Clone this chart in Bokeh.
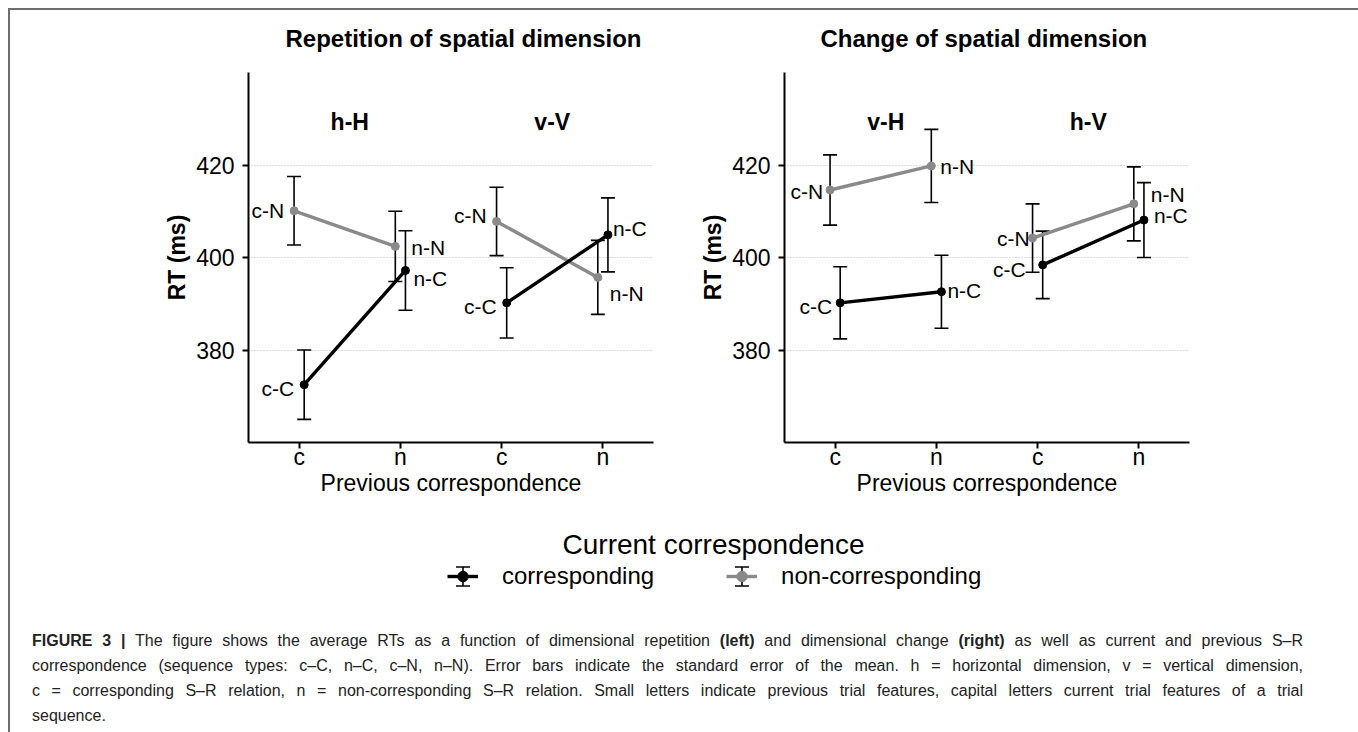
import math
from bokeh.plotting import figure
from bokeh.models import (ColumnDataSource, Whisker, FixedTicker, Range1d, Legend,
                          LegendItem, Div, TeeHead, Label)
from bokeh.layouts import column, row
from bokeh.embed import file_html
from bokeh.resources import INLINE
from bokeh.core.properties import value

FONT = "Liberation Sans"

# ---------------- data ----------------
panel_titles = ["Repetition of spatial dimension", "Change of spatial dimension"]
panel_facets = [["h-H", "v-V"], ["v-H", "h-V"]]
prev_labels = ["c", "n"]                       # previous correspondence
legend_title = "Current correspondence"
series_names = ["corresponding", "non-corresponding"]
series_colors = ["#000000", "#8a8a8a"]
y_ticks = [380, 400, 420]

# mean RT (ms) for [previous c, previous n]
rt_corresponding = {
    "h-H": [372.5, 397.2],
    "v-V": [390.2, 404.9],
    "v-H": [390.2, 392.6],
    "h-V": [398.4, 408.1],
}
rt_noncorresponding = {
    "h-H": [410.1, 402.4],
    "v-V": [407.8, 395.7],
    "v-H": [414.6, 419.8],
    "h-V": [404.2, 411.6],
}
# standard errors
se_corresponding = {
    "h-H": [7.5, 8.6],
    "v-V": [7.6, 8.0],
    "v-H": [7.8, 7.9],
    "h-V": [7.3, 8.1],
}
se_noncorresponding = {
    "h-H": [7.4, 7.6],
    "v-V": [7.4, 8.0],
    "v-H": [7.6, 7.9],
    "h-V": [7.4, 8.0],
}
# point labels
labels_corresponding = ["c-C", "n-C"]
labels_noncorresponding = ["c-N", "n-N"]

# label nudges in pixels (style only): (dx, dy) per facet, per previous level
nudge_corresponding = {
    "h-H": [(-10, 4), (8, 8)],
    "v-V": [(-10, 4), (5, -6)],
    "v-H": [(-8, 4), (6, -1)],
    "h-V": [(-17, 5), (10, -5)],
}
nudge_noncorresponding = {
    "h-H": [(-10, 0), (16, 1)],
    "v-V": [(-10, -6), (12, 16)],
    "v-H": [(-7, 2), (9, 1)],
    "h-V": [(-3, 0), (17, -9)],
}
DODGE = 0.05
FACET_LABEL_Y = 429.2
TOTAL_W = 1345
STRIP_H = 50
PANEL_H = 460
FRAME_H = 370
FRAME_TOP = 12


def build_panel(facets, width, border_left, border_right):
    p = figure(width=width, height=PANEL_H, output_backend="svg", toolbar_location=None,
               x_range=Range1d(0.5, 4.5), y_range=Range1d(360, 440),
               min_border_left=border_left, min_border_right=border_right,
               min_border_top=FRAME_TOP, min_border_bottom=PANEL_H - FRAME_TOP - FRAME_H)
    p.outline_line_color = None

    series = [
        (rt_corresponding, se_corresponding, labels_corresponding, nudge_corresponding, +DODGE, series_colors[0]),
        (rt_noncorresponding, se_noncorresponding, labels_noncorresponding, nudge_noncorresponding, -DODGE, series_colors[1]),
    ]
    # draw grey first, black on top
    for rt, se, labs, nudge, dodge, color in reversed(series):
        for fi, fac in enumerate(facets):
            xs = [fi * 2 + k + 1 + dodge for k in range(len(prev_labels))]
            ys = rt[fac]
            src = ColumnDataSource(dict(
                x=xs, y=ys,
                upper=[v + e for v, e in zip(ys, se[fac])],
                lower=[v - e for v, e in zip(ys, se[fac])],
                lab=labs,
                dx=[n[0] for n in nudge[fac]],
                dy=[n[1] for n in nudge[fac]],
                align=["right", "left"],
            ))
            p.line("x", "y", source=src, line_color=color, line_width=3.4)
            w = Whisker(source=src, base="x", upper="upper", lower="lower",
                        line_color="black", line_width=1.6,
                        upper_head=TeeHead(size=14, line_color="black", line_width=1.6),
                        lower_head=TeeHead(size=14, line_color="black", line_width=1.6))
            p.add_layout(w)
            p.scatter("x", "y", source=src, size=8, fill_color=color, line_color=color)
            p.text("x", "y", text="lab", source=src, x_offset="dx", y_offset="dy",
                   text_align="align", text_baseline="middle",
                   text_font=value(FONT), text_font_size="21px", text_color="black")

    # facet strip labels
    fsrc = ColumnDataSource(dict(x=[1.5, 3.5], y=[FACET_LABEL_Y] * 2, t=facets))
    p.text("x", "y", text="t", source=fsrc, text_align="center", text_baseline="middle",
           text_font=value(FONT), text_font_size="23px", text_font_style="bold",
           text_color="black")

    # axes
    p.xaxis.ticker = FixedTicker(ticks=[1, 2, 3, 4])
    p.xaxis.major_label_overrides = {1: prev_labels[0], 2: prev_labels[1],
                                     3: prev_labels[0], 4: prev_labels[1]}
    p.yaxis.ticker = FixedTicker(ticks=y_ticks)
    p.xaxis.axis_label = "Previous correspondence"
    p.yaxis.axis_label = "RT (ms)"
    for ax in (p.xaxis, p.yaxis):
        ax.axis_line_width = 2
        ax.axis_line_color = "black"
        ax.major_tick_line_width = 2
        ax.major_tick_line_color = "black"
        ax.major_tick_out = 6
        ax.major_tick_in = 0
        ax.minor_tick_line_color = None
        ax.major_label_text_font = FONT
        ax.major_label_text_font_size = "23px"
        ax.major_label_text_color = "black"
        ax.axis_label_text_font = FONT
        ax.axis_label_text_font_size = "23px"
        ax.axis_label_text_color = "black"
    p.xaxis.axis_label_text_font_style = "normal"
    p.yaxis.axis_label_text_font_style = "bold"
    p.xaxis.major_label_standoff = -5
    p.xaxis.axis_label_standoff = -3
    p.yaxis.major_label_standoff = 8
    p.yaxis.axis_label_standoff = 3
    p.xgrid.grid_line_color = None
    p.ygrid.grid_line_color = "#b8b8b8"
    p.ygrid.grid_line_dash = "1 2"
    p.ygrid.grid_line_width = 1
    return p


# ---------------- panel titles strip ----------------
strip = figure(width=TOTAL_W, height=STRIP_H, output_backend="svg", toolbar_location=None,
               x_range=Range1d(0, 1), y_range=Range1d(0, 1),
               min_border_top=0, min_border_bottom=0, min_border_left=0, min_border_right=0)
strip.axis.visible = False
strip.grid.visible = False
strip.outline_line_color = None
for tx, title in zip([275, 810], panel_titles):
    strip.add_layout(Label(x=tx, y=STRIP_H - 28, x_units="screen", y_units="screen",
                           text=title, text_align="left", text_baseline="middle",
                           text_font=FONT, text_font_size="24px", text_font_style="bold",
                           text_color="black"))

left = build_panel(panel_facets[0], 666, 238, 23)
right = build_panel(panel_facets[1], TOTAL_W - 666, 108, TOTAL_W - 666 - 108 - 405)

# ---------------- legend ----------------
LEG_H = 100
LEG_X, LEG_Y = 437, 30
GLYPH_W, GLYPH_H, STANDOFF, SPACING = 31, 26, 24, 72
LABEL1_W = 152          # rendered width of the first legend label
lg = figure(width=TOTAL_W, height=LEG_H, output_backend="svg", toolbar_location=None,
            x_range=Range1d(0, 1), y_range=Range1d(0, 1),
            min_border_top=0, min_border_bottom=0, min_border_left=0, min_border_right=0)
lg.axis.visible = False
lg.grid.visible = False
lg.outline_line_color = None
lg.add_layout(Label(x=703, y=76, x_units="screen", y_units="screen", text=legend_title,
                    text_align="center", text_baseline="middle", text_font=FONT,
                    text_font_size="28px", text_color="black"))

# error-bar symbol of the legend keys (drawn under the legend's line and point)
key_cx = [LEG_X + GLYPH_W / 2,
          LEG_X + GLYPH_W + STANDOFF + LABEL1_W + SPACING + GLYPH_W / 2]
key_cy = LEG_Y + GLYPH_H / 2 + 1
ksrc = ColumnDataSource(dict(base=key_cx, lower=[key_cy - 9.5] * 2, upper=[key_cy + 9.5] * 2))
lg.add_layout(Whisker(source=ksrc, base="base", lower="lower", upper="upper",
                      base_units="screen", lower_units="screen", upper_units="screen",
                      line_color="black", line_width=1.6,
                      upper_head=TeeHead(size=14, line_color="black", line_width=1.6),
                      lower_head=TeeHead(size=14, line_color="black", line_width=1.6)))

nan = float("nan")
items = []
for name, color in zip(series_names, series_colors):
    r_line = lg.line(x=[nan, nan], y=[nan, nan], line_color=color, line_width=3.4)
    r_pt = lg.scatter(x=[nan], y=[nan], marker="circle", size=8, fill_color=color, line_color=color)
    items.append(LegendItem(label=name, renderers=[r_line, r_pt]))
legend = Legend(items=items, orientation="horizontal", location=(LEG_X, LEG_Y),
                label_text_font=FONT, label_text_font_size="24px", label_text_color="black",
                label_height=28, glyph_width=GLYPH_W, glyph_height=GLYPH_H,
                label_standoff=STANDOFF, spacing=SPACING,
                padding=0, margin=0, border_line_color=None, background_fill_alpha=0)
lg.add_layout(legend, "center")

# ---------------- caption ----------------
caption = Div(width=TOTAL_W, height=120, text=(
    '<div style="font-family: \'Liberation Sans\', Arial, sans-serif; font-size: 16px; '
    'line-height: 25px; color: #222; margin-left: 17px; width: 1271px; padding-top: 3px; '
    'text-align: justify; text-align-last: justify;">'
    '<b>FIGURE 3 |</b> The figure shows the average RTs as a function of dimensional repetition '
    '<b>(left)</b> and dimensional change <b>(right)</b> as well as current and previous S\u2013R<br>'
    'correspondence (sequence types: c\u2013C, n\u2013C, c\u2013N, n\u2013N). Error bars indicate the '
    'standard error of the mean. h = horizontal dimension, v = vertical dimension,<br>'
    'c = corresponding S\u2013R relation, n = non-corresponding S\u2013R relation. Small letters '
    'indicate previous trial features, capital letters current trial features of a trial<br>'
    'sequence.</div>'))

layout = column(strip, row(left, right), lg, caption, margin=(8, 0, 0, 8),
                styles={"border-top": "2px solid #6e6e6e",
                        "border-left": "2px solid #6e6e6e",
                        "border-right": "2px solid #6e6e6e"})

open("out.html", "w").write(file_html(layout, INLINE))
